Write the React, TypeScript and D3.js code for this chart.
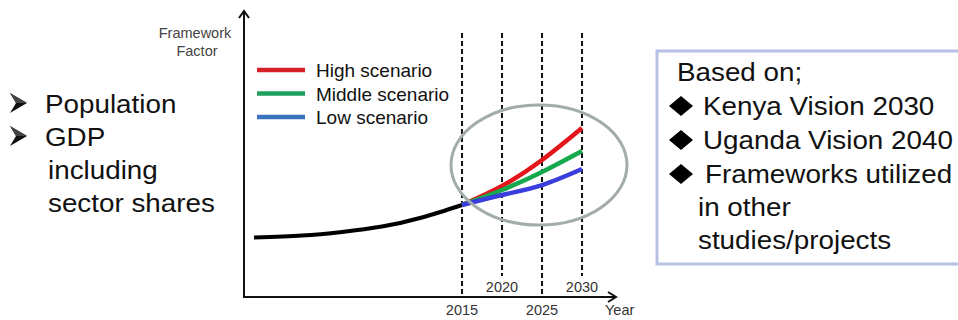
import React from "react";
import * as d3 from "d3";

const histYears = [1989, 1995, 2000, 2005, 2010, 2015];
const histValues = [64.7, 66.8, 70.7, 76.6, 86.4, 100];

const scenYears = [2015, 2020, 2025, 2030];
const scenarioNames = ["High scenario", "Middle scenario", "Low scenario"];
const highValues = [100, 120.7, 148.9, 183.7];
const middleValues = [100, 116.3, 135.9, 158.7];
const lowValues = [100, 110.9, 121.7, 139.1];
const lineColors = ["#e3161c", "#16a84c", "#3a3edc"];
const legendColors = ["#d42128", "#1f9f5c", "#3a72bd"];

const markedYears = [2015, 2020, 2025, 2030];
const leftBullets = ["Population", "GDP"];
const leftExtra = ["including", "sector shares"];
const boxTitle = "Based on;";
const boxBullets = ["Kenya Vision 2030", "Uganda Vision 2040", "Frameworks utilized"];
const boxExtra = ["in other", "studies/projects"];

const FONT = "'Liberation Sans', Arial, sans-serif";

export default function App() {
  const x = d3.scaleLinear().domain([2015, 2030]).range([462, 582]);
  const y = d3.scaleLinear().domain([0, 100]).range([297, 205]);
  const line = d3
    .line<[number, number]>()
    .x((d) => x(d[0]))
    .y((d) => y(d[1]))
    .curve(d3.curveNatural);

  const hist: [number, number][] = histYears.map((t, i) => [t, histValues[i]]);
  const scen = [highValues, middleValues, lowValues].map((vals) =>
    scenYears.map((t, i) => [t, vals[i]] as [number, number])
  );

  const axisX0 = 244;
  const axisY0 = 297;
  const axisXEnd = 616;
  const axisYTop = 11;

  return (
    <svg
      width={958}
      height={320}
      style={{ position: "absolute", left: 0, top: 0, background: "#fff", fontFamily: FONT }}
    >
      <rect x={0} y={0} width={958} height={320} fill="#fff" />

      {/* left text */}
      {leftBullets.map((t, i) => {
        const by = 113 + i * 33;
        return (
          <g key={t}>
            <path
              d={`M10,${by - 20} L27,${by - 10} L10,${by} L16,${by - 10} Z`}
              fill="#111"
            />
            <path d={`M10,${by - 20} L27,${by - 10} L16,${by - 10} Z`} fill="#444" />
            <text x={45} y={by} fontSize={26} fill="#111" transform={`translate(45,0) scale(1.07,1) translate(-45,0)`}>
              {t}
            </text>
          </g>
        );
      })}
      {leftExtra.map((t, i) => (
        <text key={t} x={48} y={179 + i * 33} fontSize={26} fill="#111" transform={`translate(48,0) scale(1.07,1) translate(-48,0)`}>
          {t}
        </text>
      ))}

      {/* y axis label */}
      <text x={195} y={38} fontSize={14.5} fill="#444" textAnchor="middle">
        Framework
      </text>
      <text x={197} y={56} fontSize={14.5} fill="#444" textAnchor="middle">
        Factor
      </text>

      {/* dashed year lines */}
      {markedYears.map((t, i) => (
        <line
          key={t}
          x1={x(t)}
          x2={x(t)}
          y1={33}
          y2={i % 2 === 0 ? axisY0 : 276}
          stroke="#111"
          strokeWidth={2}
          strokeDasharray="5,3"
        />
      ))}

      {/* axes */}
      <line x1={axisX0} x2={axisX0} y1={axisY0 + 1} y2={axisYTop} stroke="#111" strokeWidth={2} />
      <polyline
        points={`${axisX0 - 5},${axisYTop + 7} ${axisX0},${axisYTop} ${axisX0 + 5},${axisYTop + 7}`}
        fill="none"
        stroke="#111"
        strokeWidth={2}
      />
      <line x1={axisX0} x2={axisXEnd} y1={axisY0} y2={axisY0} stroke="#111" strokeWidth={2} />
      <polyline
        points={`${axisXEnd - 8},${axisY0 - 5} ${axisXEnd},${axisY0} ${axisXEnd - 8},${axisY0 + 5}`}
        fill="none"
        stroke="#111"
        strokeWidth={2}
      />

      {/* year labels */}
      {markedYears.map((t, i) => (
        <text
          key={t}
          x={x(t)}
          y={i % 2 === 0 ? 315 : 292}
          fontSize={14.5}
          fill="#333"
          textAnchor="middle"
        >
          {t}
        </text>
      ))}
      <text x={605} y={315} fontSize={14.5} fill="#333">
        Year
      </text>

      {/* historical curve */}
      <path d={line(hist) || ""} fill="none" stroke="#000" strokeWidth={4} />

      {/* scenario curves */}
      {scen.map((s, i) => (
        <path
          key={scenarioNames[i]}
          d={line(s) || ""}
          fill="none"
          stroke={lineColors[i]}
          strokeWidth={4.5}
        />
      ))}

      {/* ellipse */}
      <ellipse cx={539} cy={165} rx={88} ry={60} fill="none" stroke="#a2acaa" strokeWidth={3} />

      {/* legend */}
      {scenarioNames.map((n, i) => {
        const ly = 70 + i * 23.5;
        return (
          <g key={n}>
            <line x1={257} x2={305} y1={ly} y2={ly} stroke={legendColors[i]} strokeWidth={4.5} />
            <text x={316} y={ly + 7} fontSize={19} fill="#111">
              {n}
            </text>
          </g>
        );
      })}

      {/* right box */}
      <rect x={657} y={51} width={320} height={213} fill="#fff" stroke="#b9c0e6" strokeWidth={3} />
      <g transform="translate(677,0) scale(1.07,1) translate(-677,0)">
        <text x={677} y={81} fontSize={26} fill="#111">
          {boxTitle}
        </text>
      </g>
      {boxBullets.map((t, i) => {
        const by = 115 + i * 34;
        const tx = i === 2 ? 705 : 703;
        return (
          <g key={t}>
            <path
              d={`M669,${by - 9} L681,${by - 19} L693,${by - 9} L681,${by + 1} Z`}
              fill="#000"
            />
            <text x={tx} y={by} fontSize={26} fill="#111" transform={`translate(${tx},0) scale(1.07,1) translate(${-tx},0)`}>
              {t}
            </text>
          </g>
        );
      })}
      {boxExtra.map((t, i) => (
        <text key={t} x={698} y={216 + i * 33} fontSize={26} fill="#111" transform={`translate(698,0) scale(1.07,1) translate(-698,0)`}>
          {t}
        </text>
      ))}
    </svg>
  );
}
